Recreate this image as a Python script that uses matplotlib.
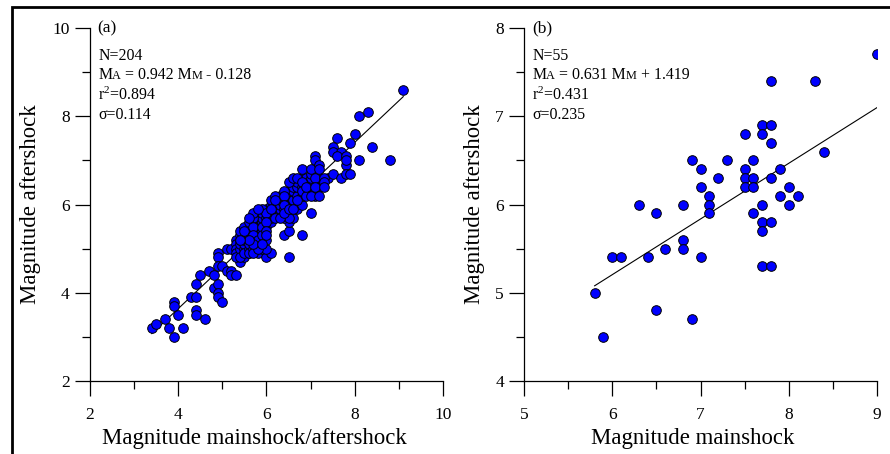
import matplotlib
matplotlib.use("Agg")
import matplotlib.pyplot as plt
import numpy as np
from matplotlib.offsetbox import TextArea, HPacker, VPacker, AnchoredOffsetbox
from matplotlib.patches import Rectangle

plt.rcParams["font.family"] = ["Liberation Serif", "DejaVu Serif"]
plt.rcParams["mathtext.fontset"] = "custom"
plt.rcParams["mathtext.rm"] = "Liberation Serif"
plt.rcParams["mathtext.it"] = "Liberation Serif:italic"

# (a) mainshock/aftershock vs aftershock magnitude
main_a = [
    3.4, 3.5, 3.7, 3.8, 3.9, 3.9, 3.9, 4.0, 4.1, 4.3,
    4.4, 4.4, 4.4, 4.4, 4.5, 4.6, 4.7, 4.8, 4.8, 4.9,
    4.9, 4.9, 4.9, 4.9, 4.9, 5.0, 5.0, 5.1, 5.1, 5.2,
    5.2, 5.3, 5.2, 5.3, 5.3, 5.4, 5.4, 5.5, 5.6, 5.8,
    6.0, 6.1, 6.5, 6.8, 7.0, 6.4, 6.5, 6.5, 6.6, 6.7,
    5.3, 5.3, 5.3, 5.4, 5.4, 5.4, 5.4, 5.4, 5.5, 5.5,
    5.5, 5.5, 5.5, 5.5, 5.6, 5.6, 5.6, 5.6, 5.6, 5.6,
    5.7, 5.7, 5.7, 5.7, 5.7, 5.8, 5.8, 5.8, 5.8, 5.8,
    5.8, 5.9, 5.9, 5.9, 5.9, 5.9, 5.9, 6.0, 6.0, 6.0,
    6.0, 6.0, 6.1, 6.1, 6.1, 6.1, 6.2, 6.2, 6.2, 6.3,
    6.3, 6.3, 6.3, 6.3, 6.4, 6.4, 6.4, 6.5, 6.5, 6.5,
    6.5, 6.5, 6.6, 6.6, 6.6, 6.6, 6.7, 6.7, 6.7, 6.8,
    6.8, 6.8, 6.8, 6.9, 6.9, 6.9, 7.0, 7.0, 7.0, 7.0,
    7.1, 7.1, 7.2, 7.2, 7.2, 7.4,
    5.4, 5.5, 5.5, 5.6, 5.7, 5.7, 5.7, 5.8, 5.8, 5.9,
    5.9, 5.9, 6.0, 6.0, 6.0, 6.0, 6.1, 6.1, 6.2, 6.2,
    6.2, 6.3, 6.4, 6.4, 6.4, 6.4, 6.5, 6.5, 6.6, 6.6,
    6.7, 6.7, 6.8, 6.8, 6.8, 6.9, 6.9, 7.0, 7.0, 7.0,
    7.1, 7.1, 7.1, 7.1, 7.2, 7.2, 7.2, 7.3, 7.3, 7.3,
    5.7, 5.6, 5.4, 5.9, 5.7, 5.8, 5.6,
    9.1, 8.1, 8.3, 7.6, 8.0, 7.9, 7.5, 7.5, 8.4, 7.7,
    7.6, 7.8, 8.1, 8.8, 7.8, 7.8, 7.5, 7.7, 7.8, 7.9,
]
after_a = [
    3.2, 3.3, 3.4, 3.2, 3.0, 3.8, 3.7, 3.5, 3.2, 3.9,
    3.9, 4.2, 3.6, 3.5, 4.4, 3.4, 4.5, 4.4, 4.1, 4.9,
    4.8, 4.6, 4.2, 4.0, 3.9, 3.8, 4.6, 5.0, 4.5, 4.5,
    4.4, 4.4, 5.0, 5.2, 5.1, 4.7, 4.9, 4.8, 4.9, 4.9,
    4.8, 4.9, 4.8, 5.3, 5.8, 5.3, 5.4, 5.6, 5.7, 5.9,
    5.0, 4.9, 4.8, 5.0, 5.1, 5.2, 5.3, 4.8, 5.0, 5.1,
    5.2, 5.3, 5.4, 4.9, 5.0, 5.1, 5.3, 5.4, 5.5, 4.9,
    5.0, 5.2, 5.4, 5.6, 4.9, 5.1, 5.3, 5.4, 5.6, 5.7,
    5.8, 5.0, 5.2, 5.4, 5.6, 5.7, 5.8, 5.0, 5.2, 5.5,
    5.7, 5.9, 5.6, 5.7, 5.8, 6.0, 5.8, 5.9, 6.0, 5.8,
    5.9, 6.0, 6.1, 6.2, 5.7, 5.9, 6.1, 5.7, 6.0, 6.1,
    6.2, 6.3, 6.0, 6.1, 6.3, 6.4, 6.2, 6.4, 6.5, 6.0,
    6.2, 6.4, 6.6, 6.3, 6.5, 6.6, 6.3, 6.4, 6.5, 6.6,
    6.2, 6.3, 6.4, 6.5, 6.6, 6.6,
    5.4, 5.5, 5.4, 5.6, 5.7, 5.5, 5.3, 5.2, 5.0, 5.5,
    5.9, 5.3, 5.8, 5.6, 5.4, 5.3, 6.1, 5.9, 6.2, 6.1,
    5.7, 5.7, 6.3, 6.2, 6.0, 5.8, 5.9, 6.5, 5.9, 6.6,
    6.6, 6.1, 6.5, 6.3, 6.8, 6.2, 6.4, 6.2, 6.7, 6.8,
    7.1, 7.0, 6.6, 6.4, 6.9, 6.8, 6.2, 6.6, 6.5, 6.4,
    5.1, 5.2, 5.2, 5.1, 5.8, 5.9, 5.7,
    8.6, 8.0, 8.1, 7.5, 7.6, 7.4, 7.3, 7.2, 7.3, 7.2,
    7.1, 7.1, 7.0, 7.0, 6.9, 7.0, 6.7, 6.6, 6.7, 6.7,
]
fit_a = (0.942, -0.128)
stats_a = dict(n=204, r2=0.894, sigma=0.114)

# (b) mainshock vs largest aftershock magnitude
main_b = [
    9.0, 7.8, 8.3, 7.7, 7.8, 7.5, 7.7, 7.8, 8.4, 6.9,
    7.3, 7.6, 7.0, 7.5, 7.9, 7.2, 7.5, 7.6, 7.8, 7.0,
    7.5, 7.6, 8.0, 7.1, 7.9, 8.1, 6.3, 6.8, 7.1, 7.7,
    8.0, 6.5, 7.1, 7.6, 7.7, 7.8, 7.7, 6.8, 6.6, 6.8,
    6.0, 6.1, 6.4, 7.0, 7.7, 7.8, 5.8, 6.5, 6.9, 5.9,
]
after_b = [
    7.7, 7.4, 7.4, 6.9, 6.9, 6.8, 6.8, 6.7, 6.6, 6.5,
    6.5, 6.5, 6.4, 6.4, 6.4, 6.3, 6.3, 6.3, 6.3, 6.2,
    6.2, 6.2, 6.2, 6.1, 6.1, 6.1, 6.0, 6.0, 6.0, 6.0,
    6.0, 5.9, 5.9, 5.9, 5.8, 5.8, 5.7, 5.6, 5.5, 5.5,
    5.4, 5.4, 5.4, 5.4, 5.3, 5.3, 5.0, 4.8, 4.7, 4.5,
]
fit_b = (0.631, 1.419)
stats_b = dict(n=55, r2=0.431, sigma=0.235)


def stats_box(ax, x, y, n, slope, intercept, r2, sigma):
    big, small = 11.4, 8.8

    def ta(s, size):
        return TextArea(s, textprops=dict(fontsize=size))

    sign = "+" if intercept >= 0 else "-"
    eq = HPacker(children=[ta("M", big), ta("A", small),
                           ta(f" = {slope:.3f} M", big), ta("M", small),
                           ta(f" {sign} {abs(intercept):.3f}", big)],
                 align="baseline", pad=0, sep=0)
    rows = [ta(f"N={n}", big), eq, ta(f"r$^2$={r2:.3f}", big), ta(f"σ={sigma:.3f}", big)]
    box = VPacker(children=rows, align="left", pad=0, sep=2.5)
    ax.add_artist(AnchoredOffsetbox(loc="upper left", child=box, bbox_to_anchor=(x, y),
                                    bbox_transform=ax.transAxes, frameon=False,
                                    pad=0, borderpad=0))


def panel(ax, xs, ys, fit, stats, tag, xlim, ylim, major, minor, xlabel, xlabel_x, ylabel_x):
    xs, ys = np.asarray(xs), np.asarray(ys)
    ax.scatter(xs, ys, s=48, c="#0000ff", edgecolors="black", linewidths=0.7, zorder=3)
    xl = np.array([xs.min(), xs.max()])
    ax.plot(xl, fit[0] * xl + fit[1], color="black", lw=0.8, zorder=2)
    ax.set_xlim(*xlim); ax.set_ylim(*ylim)
    ax.set_xticks(np.arange(xlim[0], xlim[1] + 0.01, major))
    ax.set_yticks(np.arange(ylim[0], ylim[1] + 0.01, major))
    ax.set_xticks(np.arange(xlim[0], xlim[1] + 0.01, minor), minor=True)
    ax.set_yticks(np.arange(ylim[0], ylim[1] + 0.01, minor), minor=True)
    ax.set_xticklabels([f"{v:g}" for v in ax.get_xticks()])
    ax.set_yticklabels([f"{v:g}" for v in ax.get_yticks()])
    for s in ("top", "right"):
        ax.spines[s].set_visible(False)
    for s in ("left", "bottom"):
        ax.spines[s].set_linewidth(0.9)
    ax.tick_params(which="major", direction="out", length=11, width=0.9, labelsize=12.5)
    ax.tick_params(axis="x", which="major", pad=8)
    ax.tick_params(which="minor", direction="out", length=5.5, width=0.9)
    ax.set_xlabel(xlabel, fontsize=16.4)
    ax.set_ylabel("Magnitude aftershock", fontsize=16.4)
    ax.xaxis.set_label_coords(xlabel_x, -0.134)
    ax.yaxis.set_label_coords(ylabel_x, 0.5)
    ax.text(0.022, 1.0, tag, transform=ax.transAxes, fontsize=12.5, va="center", ha="left")
    stats_box(ax, 0.023, 0.944, stats["n"], fit[0], fit[1], stats["r2"], stats["sigma"])


fig = plt.figure(figsize=(8.9, 4.54), dpi=100)
ax_a = fig.add_axes([0.1011, 0.1608, 0.3966, 0.7775])
ax_b = fig.add_axes([0.5888, 0.1608, 0.3966, 0.7775])

panel(ax_a, main_a, after_a, fit_a, stats_a, "(a)", (2, 10), (2, 10), 2, 1,
      "Magnitude mainshock/aftershock", 0.467, -0.14)
panel(ax_b, main_b, after_b, fit_b, stats_b, "(b)", (5, 9), (4, 8), 1, 0.5,
      "Magnitude mainshock", 0.479, -0.11)

fig.add_artist(Rectangle((12 / 890, -0.05), 1.2, 1.05 - 7 / 454, transform=fig.transFigure,
                         fill=False, lw=2.0, edgecolor="black", clip_on=False))

fig.savefig("out.png", dpi=100)
